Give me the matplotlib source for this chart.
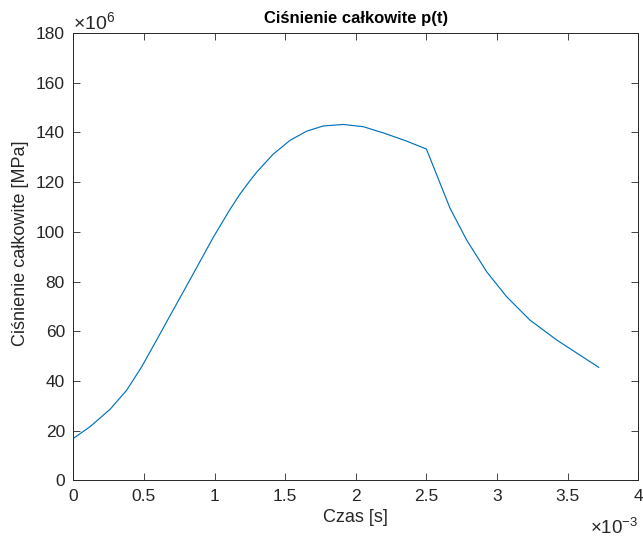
import matplotlib
matplotlib.use("Agg")
import matplotlib.pyplot as plt
from matplotlib.ticker import FuncFormatter

plt.rcParams['font.family'] = ['Liberation Sans', 'DejaVu Sans']
plt.rcParams['mathtext.fontset'] = 'custom'
plt.rcParams['mathtext.rm'] = 'Liberation Sans'
plt.rcParams['mathtext.it'] = 'Liberation Sans'

# czas [x1e-3 s] i cisnienie [x1e6]
czas = [0, 0.0, 0.118, 0.26, 0.378, 0.484, 0.59, 0.685, 0.779, 0.873,
        0.991, 1.109, 1.18, 1.251, 1.298, 1.416, 1.534, 1.652, 1.77, 1.912,
        2.053, 2.195, 2.36, 2.5, 2.573, 2.667, 2.785, 2.927, 3.068, 3.233,
        3.422, 3.587, 3.72]
cisnienie = [0, 16.9, 21.6, 28.6, 36.3, 45.7, 56.5, 66.3, 75.9, 85.6,
             97.8, 109.0, 115.2, 120.6, 124.0, 131.3, 136.8, 140.5, 142.6,
             143.2, 142.3, 139.8, 136.5, 133.3, 122.9, 109.5, 96.7, 83.9,
             73.9, 64.5, 56.5, 50.4, 45.5]

x_ticks = [0, 0.5, 1, 1.5, 2, 2.5, 3, 3.5, 4]
y_ticks = [0, 20, 40, 60, 80, 100, 120, 140, 160, 180]

gray = '#262626'

fig = plt.figure(figsize=(6.43, 5.38), dpi=100)
ax = fig.add_axes([0.114, 0.107, 0.8787, 0.8317])
ax.plot(czas, cisnienie, color='#0072BD', linewidth=0.85)

ax.set_xlim(0, 4)
ax.set_ylim(0, 180)
ax.set_xticks(x_ticks)
ax.set_yticks(y_ticks)
fmt = FuncFormatter(lambda v, pos: '%g' % v)
ax.xaxis.set_major_formatter(fmt)
ax.yaxis.set_major_formatter(fmt)
ax.tick_params(direction='in', length=5, width=0.6, colors=gray,
               labelsize=12.5, top=True, right=True, pad=6)
for s in ax.spines.values():
    s.set_color(gray)
    s.set_linewidth(0.7)

ax.set_xlabel('Czas [s]', fontsize=13, color=gray, labelpad=4)
ax.set_ylabel('Ciśnienie całkowite [MPa]', fontsize=13, color=gray)
ax.yaxis.set_label_coords(-0.078, 0.53)
ax.set_title('Ciśnienie całkowite p(t)', fontsize=12, fontweight='bold',
             color='black', pad=7)

ax.text(0, 1.0, r'$\times10^{6}$', transform=ax.transAxes, ha='left',
        va='bottom', fontsize=14, color=gray)
ax.text(1, -0.083, r'$\times10^{-3}$', transform=ax.transAxes, ha='right',
        va='top', fontsize=13.5, color=gray)

fig.savefig('out.png', dpi=100)
